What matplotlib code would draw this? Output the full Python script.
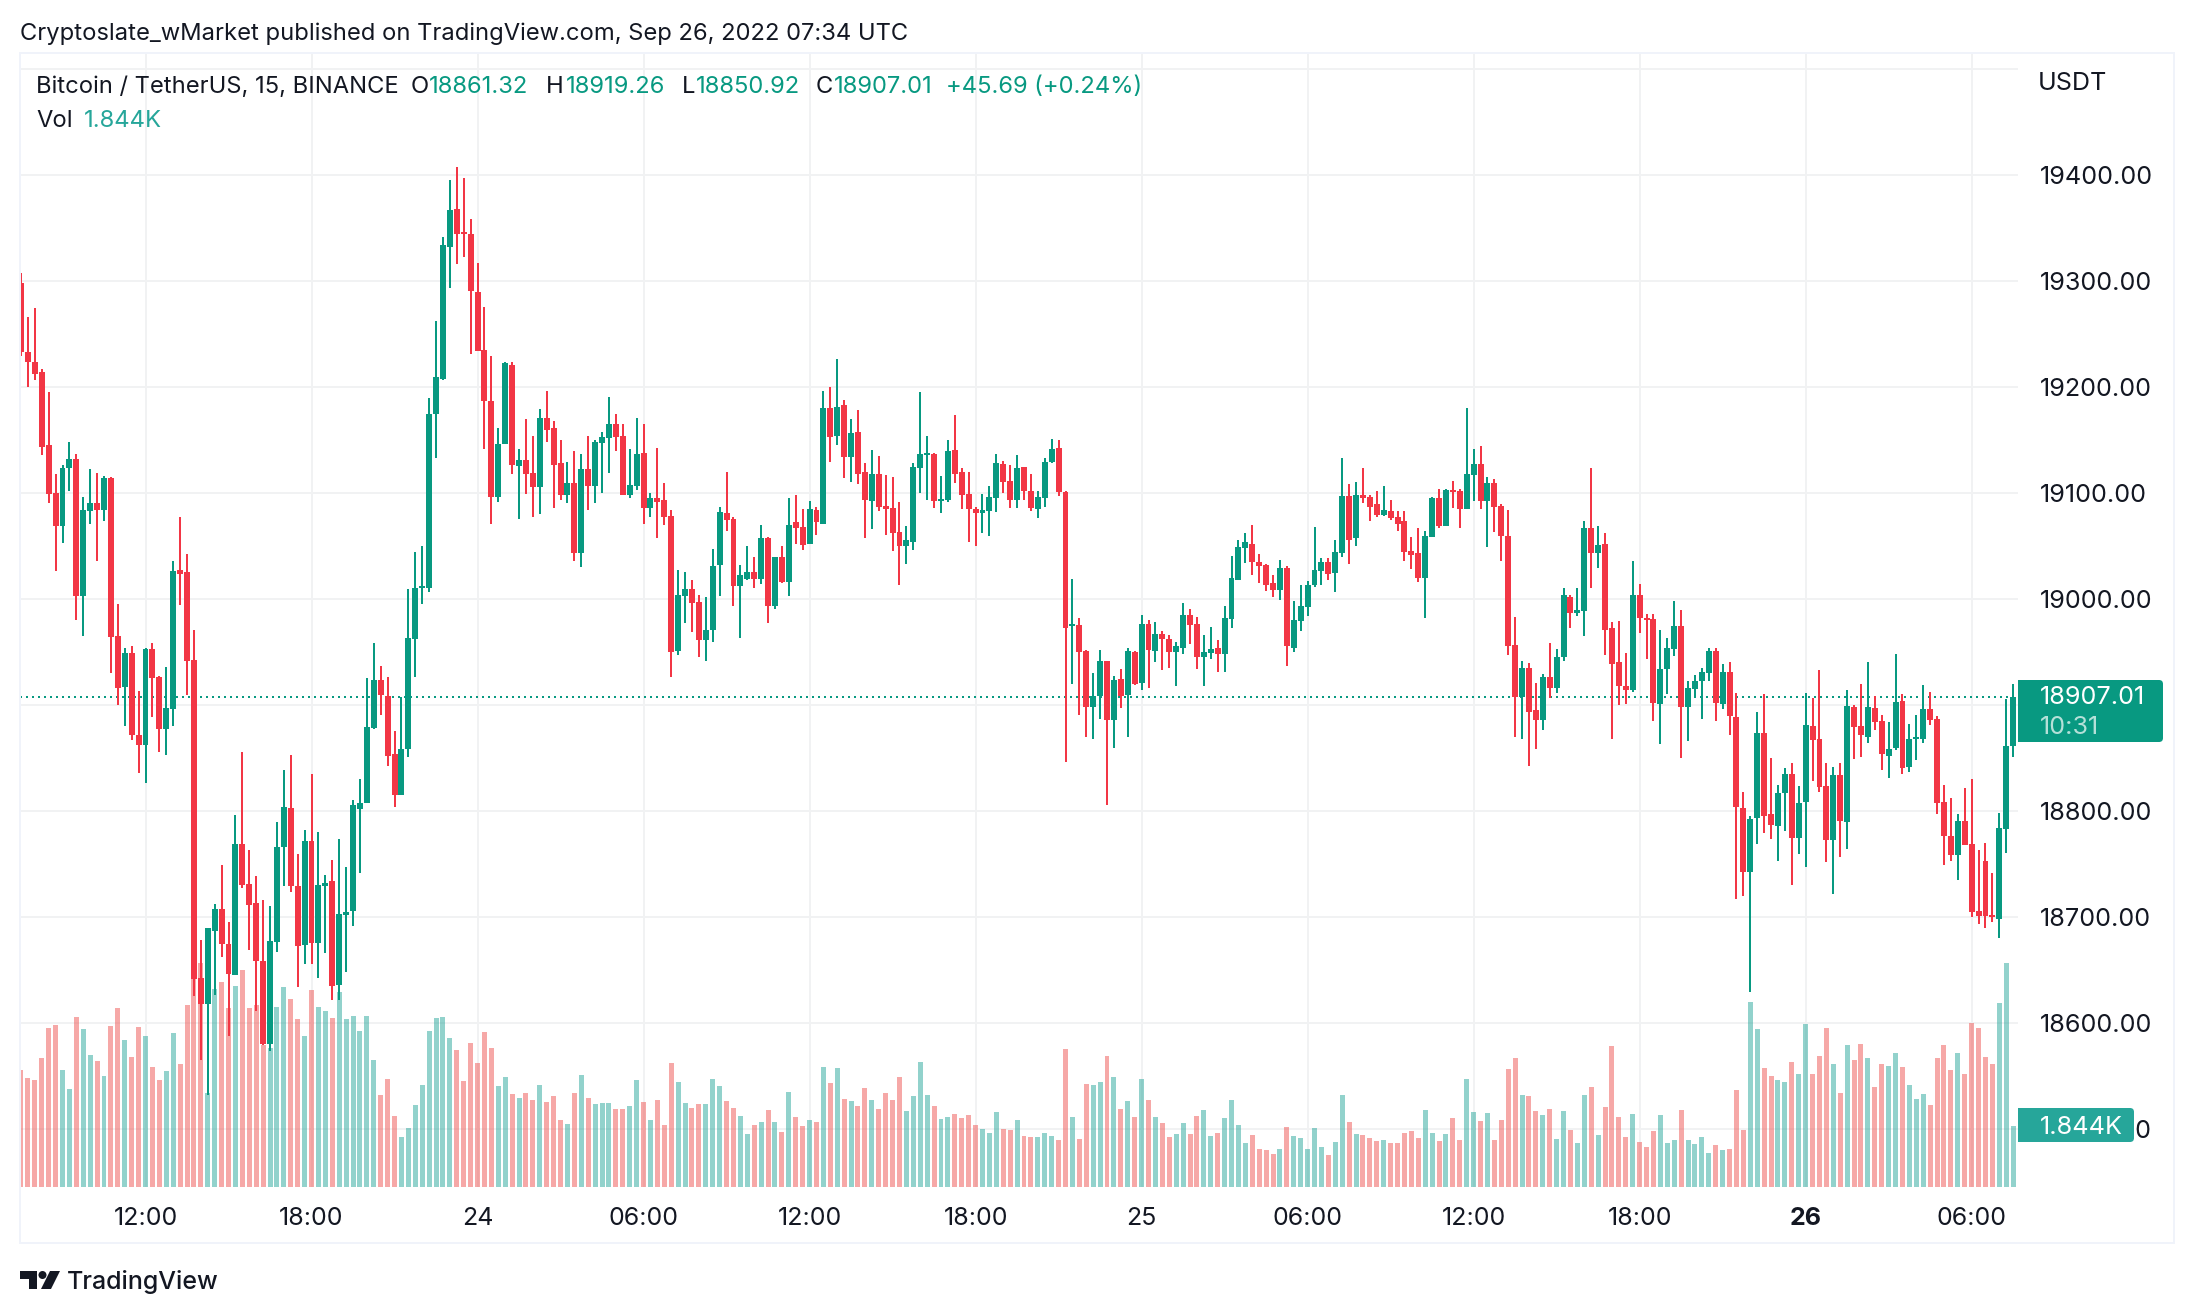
import numpy as np
import matplotlib
matplotlib.use('Agg')
import matplotlib.pyplot as plt
from matplotlib.patches import Rectangle, FancyBboxPatch, Circle, Polygon

plt.rcParams['font.family'] = ['Inter', 'DejaVu Sans']

# 15 minute candles, Sep 23 07:30 to Sep 26 07:30
opens = [
    19298, 19233, 19223, 19214, 19145, 19100, 19069, 19123, 19132, 19003,
    19083, 19090, 19084, 19114, 18965, 18917, 18949, 18871, 18862, 18953,
    18926, 18877, 18896, 19027, 19025, 18942, 18642, 18618, 18687, 18707,
    18674, 18645, 18769, 18731, 18713, 18658, 18580, 18676, 18766, 18803,
    18729, 18673, 18771, 18675, 18729, 18734, 18636, 18702, 18705, 18802,
    18807, 18878, 18923, 18908, 18854, 18815, 18858, 18962, 19010, 19010,
    19174, 19207, 19332, 19368, 19346, 19344, 19289, 19235, 19187, 19096,
    19146, 19221, 19125, 19131, 19119, 19105, 19171, 19161, 19128, 19098,
    19109, 19043, 19122, 19106, 19147, 19152, 19165, 19154, 19098, 19106,
    19138, 19086, 19095, 19093, 19078, 18951, 19003, 19009, 18997, 18961,
    18971, 19032, 19081, 19075, 19012, 19019, 19025, 19019, 19057, 18993,
    19039, 19016, 19072, 19068, 19052, 19084, 19071, 19180, 19154, 19183,
    19134, 19157, 19120, 19092, 19118, 19088, 19086, 19063, 19050, 19054,
    19123, 19136, 19137, 19092, 19093, 19140, 19120, 19099, 19085, 19081,
    19083, 19095, 19127, 19111, 19093, 19124, 19102, 19085, 19095, 19129,
    19142, 19101, 18974, 18975, 18951, 18898, 18908, 18941, 18886, 18924,
    18909, 18950, 18921, 18976, 18951, 18967, 18962, 18950, 18954, 18985,
    18976, 18945, 18949, 18954, 18948, 18981, 19018, 19048, 19052, 19035,
    19032, 19015, 19008, 19029, 18954, 18979, 18992, 19013, 19026, 19035,
    19024, 19043, 19097, 19057, 19098, 19096, 19089, 19079, 19083, 19077,
    19073, 19045, 19043, 19020, 19058, 19095, 19069, 19103, 19102, 19085,
    19117, 19127, 19092, 19109, 19088, 19059, 18956, 18907, 18935, 18895,
    18886, 18926, 18916, 18945, 19002, 18987, 18988, 19067, 19043, 19052,
    18972, 18940, 18918, 18914, 19004, 18981, 18981, 18901, 18934, 18953,
    18974, 18898, 18915, 18922, 18930, 18951, 18901, 18931, 18888, 18803,
    18742, 18793, 18873, 18797, 18786, 18817, 18835, 18774, 18808, 18880,
    18868, 18823, 18772, 18834, 18789, 18898, 18880, 18870, 18897, 18885,
    18852, 18859, 18904, 18841, 18868, 18868, 18896, 18887, 18808, 18776,
    18758, 18790, 18769, 18705, 18753, 18702, 18698, 18783, 18861.32]

highs = [
    19307, 19266, 19274, 19217, 19195, 19118, 19126, 19148, 19137, 19096,
    19122, 19119, 19116, 19115, 18995, 18954, 18955, 18913, 18954, 18958,
    18927, 18936, 19036, 19077, 19042, 18971, 18678, 18689, 18712, 18749,
    18695, 18796, 18855, 18763, 18738, 18716, 18710, 18789, 18838, 18853,
    18759, 18782, 18835, 18780, 18739, 18754, 18773, 18747, 18810, 18830,
    18925, 18958, 18937, 18926, 18875, 18907, 19009, 19044, 19050, 19189,
    19262, 19341, 19395, 19407, 19397, 19358, 19317, 19275, 19229, 19161,
    19223, 19223, 19141, 19170, 19154, 19179, 19196, 19168, 19150, 19129,
    19139, 19137, 19154, 19150, 19157, 19190, 19174, 19165, 19141, 19171,
    19165, 19100, 19142, 19109, 19084, 19027, 19025, 19018, 19004, 19002,
    19047, 19087, 19120, 19077, 19032, 19050, 19039, 19070, 19058, 19039,
    19050, 19095, 19098, 19085, 19092, 19087, 19196, 19200, 19226, 19188,
    19170, 19178, 19128, 19140, 19135, 19117, 19115, 19091, 19069, 19128,
    19195, 19154, 19138, 19116, 19150, 19173, 19123, 19120, 19087, 19099,
    19106, 19137, 19130, 19126, 19136, 19124, 19118, 19102, 19133, 19151,
    19150, 19102, 19019, 18982, 18952, 18930, 18952, 18941, 18927, 18934,
    18954, 18951, 18985, 18980, 18978, 18970, 18966, 18959, 18996, 18990,
    18983, 18966, 18973, 18961, 18993, 19040, 19055, 19062, 19070, 19042,
    19033, 19022, 19037, 19031, 18998, 19013, 19017, 19068, 19038, 19038,
    19055, 19133, 19108, 19110, 19123, 19098, 19102, 19106, 19093, 19083,
    19083, 19058, 19067, 19064, 19096, 19104, 19104, 19111, 19104, 19180,
    19141, 19144, 19115, 19113, 19089, 19084, 18983, 18941, 18939, 18921,
    18929, 18958, 18953, 19010, 19004, 19010, 19073, 19123, 19069, 19062,
    18978, 18979, 18949, 19036, 19014, 18986, 18986, 18971, 18963, 18998,
    18989, 18922, 18928, 18935, 18954, 18954, 18938, 18940, 18911, 18818,
    18795, 18893, 18910, 18850, 18824, 18840, 18845, 18823, 18911, 18906,
    18933, 18845, 18841, 18845, 18914, 18900, 18920, 18940, 18908, 18890,
    18884, 18948, 18910, 18882, 18890, 18919, 18912, 18889, 18824, 18812,
    18797, 18821, 18830, 18763, 18770, 18741, 18798, 18905, 18919.26]

lows = [
    19229, 19200, 19206, 19136, 19090, 19026, 19053, 19102, 18980, 18965,
    19071, 19036, 19073, 18930, 18900, 18880, 18867, 18836, 18826, 18888,
    18855, 18853, 18880, 18994, 18909, 18625, 18565, 18532, 18626, 18662,
    18587, 18645, 18727, 18669, 18611, 18579, 18573, 18667, 18729, 18723,
    18634, 18655, 18655, 18642, 18666, 18621, 18621, 18648, 18691, 18741,
    18807, 18877, 18890, 18842, 18804, 18815, 18851, 18926, 18995, 19006,
    19133, 19206, 19293, 19316, 19322, 19231, 19234, 19141, 19071, 19091,
    19146, 19118, 19075, 19099, 19077, 19080, 19148, 19086, 19093, 19090,
    19036, 19030, 19084, 19090, 19100, 19119, 19139, 19098, 19095, 19103,
    19071, 19077, 19057, 19070, 18926, 18947, 18977, 18969, 18945, 18941,
    18959, 19003, 19064, 18993, 18963, 19018, 19010, 19014, 18977, 18990,
    19015, 19003, 19052, 19046, 19052, 19060, 19071, 19129, 19145, 19114,
    19110, 19108, 19057, 19066, 19083, 19060, 19045, 19013, 19033, 19046,
    19100, 19093, 19086, 19081, 19091, 19109, 19085, 19054, 19050, 19062,
    19059, 19082, 19100, 19086, 19086, 19093, 19083, 19076, 19087, 19128,
    19097, 18846, 18920, 18890, 18870, 18868, 18887, 18805, 18859, 18897,
    18870, 18919, 18914, 18916, 18940, 18933, 18935, 18918, 18948, 18957,
    18934, 18918, 18943, 18931, 18931, 18972, 19018, 19034, 19022, 19015,
    19007, 19002, 18999, 18937, 18950, 18970, 18984, 19011, 19013, 19018,
    19006, 19039, 19033, 19050, 19090, 19073, 19077, 19078, 19074, 19064,
    19036, 19028, 19016, 18982, 19058, 19067, 19069, 19086, 19067, 19085,
    19092, 19085, 19049, 19063, 19036, 18947, 18870, 18868, 18842, 18858,
    18876, 18906, 18911, 18941, 18972, 18984, 18965, 19010, 19029, 18947,
    18868, 18900, 18901, 18912, 18968, 18943, 18885, 18863, 18910, 18946,
    18850, 18866, 18906, 18887, 18922, 18885, 18896, 18871, 18717, 18720,
    18629, 18769, 18779, 18773, 18753, 18781, 18730, 18759, 18747, 18828,
    18818, 18752, 18721, 18756, 18764, 18849, 18851, 18864, 18876, 18838,
    18831, 18857, 18835, 18837, 18848, 18864, 18881, 18797, 18749, 18753,
    18735, 18768, 18700, 18693, 18689, 18695, 18680, 18760, 18850.92]

closes = [
    19233, 19223, 19212, 19143, 19099, 19069, 19123, 19132, 19003, 19084,
    19090, 19084, 19114, 18964, 18916, 18949, 18871, 18862, 18953, 18925,
    18877, 18897, 19026, 19023, 18941, 18641, 18618, 18689, 18707, 18674,
    18646, 18769, 18730, 18711, 18658, 18580, 18677, 18766, 18804, 18729,
    18672, 18771, 18675, 18730, 18732, 18635, 18703, 18703, 18805, 18807,
    18879, 18923, 18909, 18852, 18815, 18858, 18963, 19010, 19011, 19174,
    19209, 19334, 19367, 19344, 19344, 19290, 19234, 19187, 19096, 19146,
    19222, 19126, 19131, 19118, 19105, 19171, 19159, 19126, 19098, 19109,
    19043, 19122, 19106, 19148, 19153, 19165, 19153, 19098, 19107, 19137,
    19086, 19095, 19091, 19077, 18950, 19004, 19009, 18996, 18961, 18971,
    19031, 19082, 19074, 19012, 19022, 19025, 19019, 19057, 18993, 19039,
    19016, 19070, 19067, 19051, 19085, 19072, 19180, 19153, 19181, 19134,
    19156, 19118, 19093, 19118, 19087, 19085, 19062, 19050, 19055, 19124,
    19137, 19137, 19092, 19094, 19139, 19118, 19098, 19085, 19081, 19084,
    19096, 19128, 19110, 19093, 19123, 19102, 19086, 19096, 19129, 19141,
    19101, 18972, 18975, 18950, 18898, 18908, 18941, 18886, 18923, 18908,
    18951, 18920, 18976, 18952, 18967, 18962, 18950, 18955, 18985, 18975,
    18945, 18950, 18953, 18948, 18982, 19020, 19049, 19054, 19035, 19031,
    19013, 19008, 19029, 18955, 18980, 18993, 19013, 19027, 19035, 19023,
    19044, 19097, 19055, 19098, 19095, 19087, 19079, 19084, 19076, 19071,
    19044, 19041, 19020, 19059, 19095, 19069, 19103, 19101, 19085, 19118,
    19127, 19092, 19109, 19087, 19059, 18955, 18907, 18935, 18893, 18886,
    18926, 18916, 18945, 19004, 18987, 18989, 19067, 19043, 19051, 18971,
    18938, 18918, 18914, 19004, 18982, 18980, 18902, 18934, 18954, 18974,
    18898, 18916, 18922, 18931, 18951, 18902, 18931, 18889, 18804, 18742,
    18792, 18873, 18795, 18787, 18817, 18835, 18774, 18807, 18881, 18867,
    18822, 18772, 18834, 18790, 18899, 18879, 18871, 18898, 18884, 18854,
    18858, 18903, 18840, 18868, 18869, 18896, 18886, 18807, 18776, 18758,
    18790, 18768, 18704, 18701, 18701, 18700, 18784, 18861, 18907.01]

# volume in thousands
volumes = [
    3.51, 3.27, 3.21, 3.87, 4.77, 4.86, 3.51, 2.94, 5.10, 4.74,
    3.96, 3.78, 3.33, 4.83, 5.37, 4.41, 3.90, 4.80, 4.53, 3.60,
    3.21, 3.48, 4.62, 3.69, 5.46, 6.26, 6.73, 2.81, 5.94, 6.15,
    5.37, 6.03, 6.51, 5.37, 5.46, 4.26, 4.16, 5.40, 6.00, 5.64,
    5.04, 4.53, 5.91, 5.40, 5.28, 5.07, 5.85, 5.04, 5.13, 4.68,
    5.13, 3.81, 2.76, 3.24, 2.13, 1.50, 1.77, 2.46, 3.06, 4.68,
    5.07, 5.10, 4.47, 4.11, 3.18, 4.32, 3.72, 4.65, 4.17, 3.03,
    3.30, 2.79, 2.67, 2.82, 2.61, 3.06, 2.55, 2.73, 2.01, 1.89,
    2.82, 3.36, 2.67, 2.49, 2.52, 2.52, 2.34, 2.34, 2.43, 3.21,
    2.55, 2.01, 2.61, 1.86, 3.72, 3.15, 2.52, 2.37, 2.49, 2.49,
    3.24, 3.03, 2.58, 2.37, 2.13, 1.59, 1.86, 1.95, 2.31, 1.95,
    1.65, 2.85, 2.10, 1.83, 2.01, 1.95, 3.60, 3.12, 3.57, 2.64,
    2.58, 2.43, 2.97, 2.61, 2.34, 2.82, 2.61, 3.30, 2.28, 2.73,
    3.75, 2.76, 2.43, 2.04, 2.10, 2.19, 2.07, 2.16, 1.86, 1.74,
    1.62, 2.25, 1.74, 1.71, 2.01, 1.53, 1.50, 1.50, 1.62, 1.53,
    1.41, 4.14, 2.10, 1.44, 3.09, 3.06, 3.15, 3.93, 3.30, 2.34,
    2.58, 2.10, 3.24, 2.61, 2.10, 1.92, 1.50, 1.59, 1.92, 1.59,
    2.13, 2.31, 1.53, 1.62, 2.07, 2.61, 1.86, 1.32, 1.56, 1.14,
    1.11, 0.99, 1.14, 1.80, 1.53, 1.47, 1.14, 1.77, 1.20, 0.96,
    1.35, 2.76, 1.95, 1.59, 1.56, 1.47, 1.38, 1.41, 1.32, 1.32,
    1.61, 1.67, 1.46, 2.30, 1.61, 1.37, 1.58, 2.06, 1.40, 3.23,
    2.24, 1.97, 2.21, 1.40, 2.00, 3.53, 3.86, 2.75, 2.72, 2.27,
    2.15, 2.33, 1.43, 2.27, 1.70, 1.31, 2.75, 2.99, 1.55, 2.39,
    4.22, 2.09, 1.49, 2.18, 1.34, 1.19, 1.67, 2.15, 1.31, 1.40,
    2.30, 1.40, 1.28, 1.49, 1.01, 1.25, 1.10, 1.13, 2.90, 1.70,
    5.54, 4.73, 3.56, 3.32, 3.20, 3.14, 3.74, 3.38, 4.88, 3.38,
    3.92, 4.76, 3.68, 2.81, 4.25, 3.80, 4.28, 3.86, 2.99, 3.68,
    3.62, 4.01, 3.59, 3.05, 2.63, 2.78, 2.45, 3.86, 4.25, 3.50,
    4.01, 3.38, 4.91, 4.76, 3.89, 3.68, 5.51, 6.71, 1.844]

# the top gridline has no label in the picture
grid_prices = [19500, 19400, 19300, 19200, 19100, 19000, 18900,
               18800, 18700, 18600, 18500]
price_ticks = [19400, 19300, 19200, 19100, 19000, 18900,
               18800, 18700, 18600, 18500]
time_ticks = [18, 42, 66, 90, 114, 138, 162, 186, 210, 234, 258, 282]
time_labels = ['12:00', '18:00', '24', '06:00', '12:00', '18:00', '25',
               '06:00', '12:00', '18:00', '26', '06:00']
last_price = 18907.01

GREEN = '#089981'
RED = '#F23645'
VOL_GREEN = '#26a69a'
VOL_RED = '#ef5350'
GRID = '#f1f2f3'
FRAME = '#f0f3fa'
INK = '#131722'

W, H = 2194, 1314
LEFT, RIGHT, TOP, BOTTOM = 20, 2018, 54, 1187

fig = plt.figure(figsize=(W / 100, H / 100), dpi=100, facecolor='white')
rect = [LEFT / W, 1 - BOTTOM / H, (RIGHT - LEFT) / W, (BOTTOM - TOP) / H]

opens = np.array(opens)
highs = np.array(highs)
lows = np.array(lows)
closes = np.array(closes)
volumes = np.array(volumes)
x = np.arange(len(opens))
up = closes >= opens

# volume pane sits under the candles and carries the grid
vol_ax = fig.add_axes(rect, zorder=1)
ax = fig.add_axes(rect, zorder=2)
ax.patch.set_visible(False)

ax.set_xlim(-0.145, 288.7)
ax.set_ylim(18445, 19514)
vol_ax.set_xlim(ax.get_xlim())
vol_ax.set_ylim(0, 34)
vol_ax.axis('off')

vol_ax.hlines(grid_prices, 0, 1, transform=ax.get_yaxis_transform(),
              colors=GRID, lw=1.44, zorder=0)
vol_ax.vlines(time_ticks, 0, 34, colors=GRID, lw=1.44, zorder=0)
vol_ax.bar(x[up], volumes[up], width=0.72, color=VOL_GREEN, alpha=0.5, lw=0)
vol_ax.bar(x[~up], volumes[~up], width=0.72, color=VOL_RED, alpha=0.5, lw=0)

ax.axhline(last_price, color=GREEN, lw=1.44, ls=(0, (1, 2)), zorder=2)

candle_colors = np.where(up, GREEN, RED)
ax.vlines(x, lows, highs, colors=candle_colors, lw=1.44, zorder=3)
body_low = np.minimum(opens, closes)
body_size = np.maximum(np.abs(closes - opens), 2)
ax.bar(x, body_size, bottom=body_low, width=0.86, color=candle_colors, lw=0,
       zorder=4)

for side in ax.spines.values():
    side.set_visible(False)

ax.yaxis.tick_right()
ax.set_yticks(price_ticks)
ax.set_yticklabels(['%.2f' % p for p in price_ticks], ha='left', fontsize=18.1,
                   color=INK)
ax.tick_params(axis='y', length=0, pad=15.5)
ax.set_xticks(time_ticks)
ax.set_xticklabels(time_labels, fontsize=18, color=INK)
ax.tick_params(axis='x', length=0, pad=14.5)
ax.get_xticklabels()[10].set_fontweight('bold')

# everything outside the panes, in picture pixels
over = fig.add_axes([0, 0, 1, 1], zorder=5)
over.set_xlim(0, W)
over.set_ylim(H, 0)
over.axis('off')

over.add_patch(Rectangle((LEFT, 53), 2174 - LEFT, 1243 - 53, fill=False,
                         ec=FRAME, lw=1.44))


def label(px, py, s, color=INK, size=17.1, **kw):
    over.text(px, py, s, color=color, fontsize=size, va='center', ha='left',
              **kw)


label(20, 33.5, 'Cryptoslate_wMarket published on TradingView.com, '
      'Sep 26, 2022 07:34 UTC')
label(36.5, 87, 'Bitcoin / TetherUS, 15, BINANCE')
label(411, 87, 'O')
label(429, 87, '18861.32', GREEN)
label(546, 87, 'H')
label(566, 87, '18919.26', GREEN)
label(682, 87, 'L')
label(696, 87, '18850.92', GREEN)
label(816, 87, 'C')
label(834, 87, '18907.01', GREEN)
label(946, 87, '+45.69 (+0.24%)', GREEN)
label(36.5, 121, 'Vol')
label(84, 121, '1.844K', VOL_GREEN)
label(2038, 83, 'USDT', size=18.1)

# last price tag and volume tag
for y0, y1, x1, tag_color in [(680, 742, 2163, GREEN), (1108, 1142, 2134, VOL_GREEN)]:
    over.add_patch(FancyBboxPatch((2018, y0), x1 - 2018, y1 - y0,
                                  boxstyle='round,pad=0,rounding_size=4',
                                  fc=tag_color, ec='none'))
    over.add_patch(Rectangle((2018, y0), 20, y1 - y0, fc=tag_color, ec='none'))

label(2040, 698, '18907.01', 'white', 18.1)
label(2040, 727, '10:31', '#b5e0d8', 18.1)
label(2040, 1127, '1.844K', 'white', 18.1)

# TradingView mark and name
over.add_patch(Polygon([(20, 1271), (37, 1271), (37, 1289), (29, 1289),
                        (29, 1279), (20, 1279)], fc=INK, ec='none'))
over.add_patch(Circle((42.5, 1275), 4, fc=INK, ec='none'))
over.add_patch(Polygon([(50, 1271), (60, 1271), (51, 1289), (41, 1289)],
                       fc=INK, ec='none'))
label(67, 1282, 'TradingView', size=18, weight='medium')

fig.savefig('out.png', dpi=100, facecolor='white')
